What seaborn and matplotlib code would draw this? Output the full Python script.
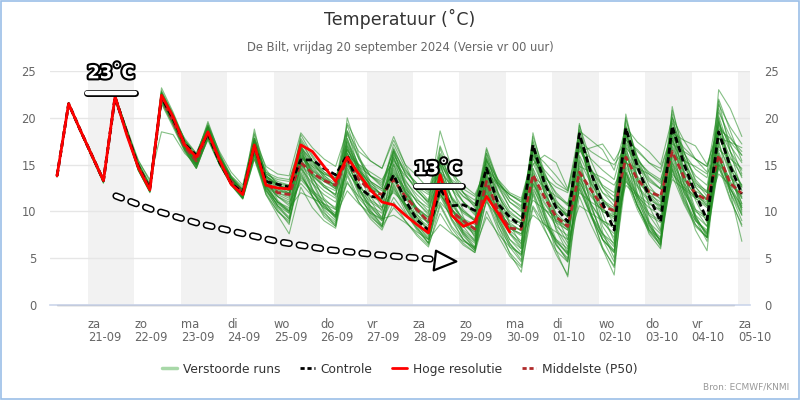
import numpy as np
import pandas as pd
import matplotlib
matplotlib.use("Agg")
import matplotlib.pyplot as plt
import matplotlib.dates as mdates
from matplotlib import patheffects as pe
from matplotlib.patches import Rectangle, Polygon
from matplotlib.lines import Line2D
import seaborn as sns

# ---------------- data ----------------
run_start = "2024-09-20 08:00"
n_steps = 60
day_names = ["za", "zo", "ma", "di", "wo", "do", "vr", "za", "zo", "ma", "di", "wo", "do", "vr", "za"]
day_dates = ["21-09", "22-09", "23-09", "24-09", "25-09", "26-09", "27-09", "28-09",
             "29-09", "30-09", "01-10", "02-10", "03-10", "04-10", "05-10"]

control = [13.8, 21.5, 18.7, 16.0, 13.3, 22.2, 18.4, 14.8, 12.4, 22.2, 19.9, 17.2, 16.0, 18.3, 15.3, 13.0, 12.0,
           17.0, 13.2, 12.9, 12.6, 15.5, 15.5, 14.6, 13.9, 16.0, 12.6, 11.6, 11.5, 13.9, 11.2, 9.1, 8.0,
           12.4, 10.6, 10.7, 10.1, 14.6, 10.8, 9.4, 8.4, 17.1, 13.0, 10.4, 8.9, 18.3, 14.1, 10.9, 8.0,
           18.9, 14.8, 11.6, 8.9, 19.1, 15.1, 11.9, 9.1, 18.5, 14.8, 11.9]
hres = [13.8, 21.5, 18.7, 16.0, 13.3, 22.3, 18.2, 14.7, 12.3, 22.4, 20.1, 17.1, 15.8, 18.5, 15.5, 12.9, 11.8,
        17.1, 12.8, 12.5, 12.4, 17.1, 16.4, 14.8, 13.2, 15.8, 14.0, 12.3, 11.0, 10.7, 9.6, 8.6, 7.7,
        13.9, 9.6, 8.4, 8.9, 11.6, 9.8, 7.8]
median = [13.8, 21.5, 18.7, 16.0, 13.3, 22.2, 18.5, 14.8, 12.5, 22.1, 19.6, 16.9, 15.4, 18.4, 15.4, 13.2, 12.0,
          16.9, 13.0, 12.0, 11.8, 15.2, 14.1, 13.3, 12.8, 15.5, 13.4, 12.2, 11.8, 13.4, 11.6, 10.2, 8.9,
          12.6, 10.0, 9.0, 8.1, 13.2, 10.1, 8.2, 8.1, 13.9, 11.5, 9.4, 8.4, 14.2, 12.3, 10.5, 10.1,
          15.8, 13.4, 12.1, 11.6, 16.4, 13.7, 11.9, 11.2, 16.0, 13.0, 11.9]

m01 = [13.8, 21.6, 18.8, 16.1, 13.4, 22.4, 18.8, 15.2, 12.8, 22.6, 20.2, 17.4, 15.8, 19.0, 15.9, 13.6, 12.2,
       17.6, 14.0, 13.2, 12.8, 16.8, 15.4, 14.2, 13.6, 17.5, 15.0, 13.8, 13.0, 15.6, 13.2, 11.8, 10.6,
       14.8, 12.4, 11.0, 10.0, 15.5, 12.8, 11.0, 10.2, 16.2, 13.8, 12.0, 10.8, 17.0, 14.5, 12.8, 12.0,
       18.2, 15.6, 14.0, 13.2, 18.8, 16.2, 14.5, 13.6, 19.5, 17.0, 15.2]
m02 = [13.7, 21.4, 18.5, 15.8, 13.0, 21.9, 18.2, 14.4, 12.1, 21.8, 19.4, 16.6, 14.8, 18.2, 15.0, 12.9, 11.5,
       16.2, 12.2, 10.4, 9.2, 13.8, 12.0, 10.4, 9.4, 14.0, 11.4, 10.0, 9.0, 11.5, 9.8, 8.2, 7.0,
       10.8, 8.4, 7.0, 6.0, 11.2, 8.0, 5.6, 4.2, 12.0, 8.8, 6.4, 5.0, 12.5, 9.4, 7.0, 5.6,
       13.8, 10.6, 8.4, 7.2, 14.5, 11.2, 9.0, 8.0, 15.0, 12.0, 9.6]
m03 = [13.9, 21.5, 18.7, 16.0, 13.3, 22.1, 18.5, 14.7, 12.4, 22.9, 20.4, 17.6, 16.0, 19.4, 16.2, 13.8, 12.6,
       18.4, 14.5, 12.8, 11.9, 17.8, 15.8, 13.9, 12.6, 19.2, 15.6, 13.2, 11.6, 14.4, 12.0, 10.1, 8.8,
       13.5, 10.8, 9.2, 8.2, 14.0, 10.6, 8.8, 7.9, 15.8, 12.0, 9.6, 8.2, 17.2, 13.2, 10.4, 8.8,
       18.8, 14.6, 11.8, 10.4, 20.0, 15.8, 12.6, 11.2, 21.0, 17.2, 14.0]
m04 = [13.8, 21.5, 18.6, 15.9, 13.2, 22.0, 18.3, 14.5, 12.2, 21.5, 19.0, 16.4, 14.6, 17.9, 15.1, 13.0, 11.4,
       16.0, 12.4, 10.6, 9.8, 14.8, 12.2, 10.2, 9.0, 15.2, 12.4, 10.0, 8.6, 13.0, 10.4, 8.2, 6.6,
       12.0, 9.0, 7.0, 5.8, 12.4, 8.6, 5.5, 3.5, 11.8, 8.2, 5.4, 3.2, 13.0, 9.6, 6.2, 4.0,
       14.6, 11.2, 8.6, 6.8, 16.2, 12.4, 9.4, 7.6, 17.4, 13.8, 10.8]
m05 = [13.8, 21.6, 18.8, 16.2, 13.5, 22.3, 18.9, 15.5, 13.2, 22.4, 20.0, 17.8, 16.2, 19.2, 16.4, 14.2, 12.8,
       17.8, 14.8, 14.0, 13.8, 18.4, 16.8, 15.6, 14.8, 18.6, 16.4, 15.4, 14.6, 17.6, 15.0, 13.8, 12.4,
       16.2, 14.0, 12.8, 11.8, 14.6, 13.0, 11.8, 11.2, 15.6, 13.6, 12.6, 12.0, 16.4, 16.8, 17.2, 15.4,
       17.6, 16.6, 15.2, 14.6, 18.4, 17.6, 17.0, 15.0, 18.8, 17.8, 16.4]
m06 = [13.8, 21.5, 18.7, 16.0, 13.3, 22.2, 18.5, 14.8, 12.5, 22.3, 19.8, 17.1, 15.5, 18.7, 15.6, 13.3, 12.0,
       17.0, 13.0, 12.0, 11.6, 15.4, 14.0, 13.2, 12.6, 15.8, 13.6, 12.4, 11.8, 13.6, 11.6, 10.0, 8.8,
       12.8, 10.2, 9.0, 8.0, 13.4, 10.2, 8.4, 8.0, 14.2, 11.4, 9.2, 8.2, 14.6, 12.2, 10.2, 9.6,
       16.0, 13.2, 11.8, 11.0, 16.8, 13.6, 11.6, 10.8, 16.4, 13.2, 11.4]
m07 = [13.8, 21.4, 18.6, 15.9, 13.2, 22.3, 18.6, 14.9, 12.6, 23.2, 20.6, 17.6, 15.9, 19.6, 16.2, 13.4, 11.9,
       18.8, 13.6, 11.2, 10.0, 17.2, 13.8, 11.2, 9.4, 20.0, 16.0, 12.6, 10.4, 16.4, 12.6, 9.8, 7.8,
       16.8, 12.6, 9.4, 7.2, 16.2, 12.0, 8.6, 6.4, 18.4, 13.6, 9.6, 7.0, 19.4, 14.0, 9.8, 6.8,
       20.4, 15.0, 10.6, 8.0, 21.2, 15.6, 11.2, 8.8, 23.0, 21.0, 18.0]
m08 = [13.8, 21.5, 18.7, 16.0, 13.4, 21.8, 18.4, 15.4, 13.4, 18.5, 18.2, 16.2, 15.0, 17.6, 15.0, 13.0, 11.6,
       16.4, 12.8, 11.0, 10.4, 12.0, 11.4, 10.8, 10.2, 13.0, 11.6, 10.6, 9.8, 12.4, 10.8, 9.4, 8.4,
       11.0, 9.6, 8.6, 7.6, 12.0, 9.8, 8.2, 7.4, 13.0, 10.8, 9.0, 8.0, 13.6, 11.6, 10.0, 9.2,
       14.8, 12.6, 11.0, 10.0, 15.2, 13.0, 11.4, 10.4, 14.6, 12.4, 10.6]
m09 = [13.8, 21.5, 18.7, 16.0, 13.2, 22.1, 18.4, 14.6, 12.3, 22.0, 19.6, 16.8, 15.0, 18.2, 15.2, 13.0, 11.6,
       16.6, 12.4, 10.2, 8.6, 15.6, 12.4, 10.0, 8.4, 16.4, 12.6, 10.2, 8.4, 13.8, 10.6, 8.4, 6.6,
       13.2, 9.8, 7.4, 6.0, 13.8, 9.4, 6.6, 4.8, 14.6, 9.6, 5.8, 3.0, 15.2, 10.8, 7.0, 4.6,
       16.4, 12.0, 8.6, 6.2, 17.6, 13.0, 9.2, 6.8, 18.6, 14.0, 10.4]
m10 = [13.8, 21.6, 18.8, 16.1, 13.4, 22.2, 18.7, 15.0, 12.7, 22.4, 20.0, 17.2, 15.6, 18.9, 15.8, 13.6, 12.3,
       17.2, 13.8, 12.8, 12.4, 16.0, 14.6, 13.4, 12.8, 17.0, 14.8, 13.2, 12.4, 16.0, 14.2, 13.0, 12.2,
       15.2, 13.4, 12.4, 11.6, 14.2, 12.8, 11.8, 11.0, 15.0, 16.0, 15.2, 12.4, 17.6, 16.4, 15.6, 15.0,
       16.8, 15.4, 14.2, 13.4, 17.2, 16.4, 15.6, 14.8, 17.8, 17.4, 16.8]
m11 = [13.7, 21.4, 18.6, 15.9, 13.1, 22.0, 18.3, 14.4, 12.0, 22.0, 19.4, 16.6, 14.6, 17.8, 15.0, 12.8, 11.4,
       15.8, 12.6, 11.0, 10.0, 13.4, 12.0, 10.8, 9.8, 14.6, 12.2, 10.6, 9.4, 12.8, 10.4, 8.6, 7.2,
       11.6, 9.2, 7.6, 6.6, 12.6, 9.0, 6.6, 5.2, 13.6, 10.0, 7.0, 5.4, 14.0, 10.4, 7.6, 6.2,
       15.4, 11.6, 8.8, 7.6, 15.8, 12.2, 9.6, 8.4, 16.0, 12.4, 9.8]
m12 = [13.8, 21.5, 18.7, 16.0, 13.3, 22.3, 18.7, 15.0, 12.6, 22.6, 20.2, 17.4, 15.6, 18.9, 15.8, 13.6, 12.2,
       17.4, 13.4, 12.0, 11.4, 18.2, 16.0, 14.2, 13.2, 19.4, 17.0, 15.4, 14.6, 18.0, 15.0, 12.4, 10.8,
       15.4, 12.8, 11.0, 9.8, 14.8, 12.0, 10.0, 9.0, 16.6, 13.2, 10.8, 9.4, 18.0, 14.6, 12.0, 10.6,
       19.0, 15.8, 13.6, 12.4, 19.6, 16.4, 13.4, 12.0, 20.6, 18.0, 16.0]
m13 = [13.8, 21.5, 18.6, 15.9, 13.2, 22.1, 18.5, 14.7, 12.3, 21.9, 19.5, 16.8, 15.0, 18.4, 15.3, 13.1, 11.7,
       16.6, 12.6, 10.6, 9.2, 14.2, 11.6, 9.8, 8.8, 13.2, 11.0, 9.4, 8.4, 10.4, 9.0, 7.6, 6.4,
       9.8, 7.8, 6.4, 5.6, 10.0, 7.4, 5.2, 4.0, 10.4, 8.0, 5.8, 4.6, 11.6, 8.6, 6.0, 4.2,
       13.4, 10.2, 7.8, 6.4, 14.4, 11.0, 8.6, 7.2, 15.2, 11.4, 8.4]
m14 = [13.9, 21.6, 18.8, 16.1, 13.4, 22.4, 18.8, 15.2, 12.9, 22.8, 20.4, 17.6, 16.2, 19.2, 16.0, 13.8, 12.4,
       17.8, 14.2, 13.0, 12.6, 17.0, 15.2, 13.6, 12.8, 18.2, 15.6, 13.8, 12.6, 17.2, 14.6, 12.6, 11.2,
       17.0, 14.0, 12.0, 10.8, 15.8, 13.2, 11.4, 10.6, 16.4, 15.2, 13.8, 12.2, 18.6, 17.6, 16.6, 14.4,
       19.0, 17.4, 16.4, 15.0, 20.0, 17.6, 15.6, 14.2, 21.4, 19.0, 17.2]
m15 = [13.8, 21.5, 18.7, 16.0, 13.3, 22.2, 18.5, 14.7, 12.4, 22.1, 19.7, 16.9, 15.2, 18.5, 15.4, 13.2, 11.8,
       16.8, 13.0, 11.6, 10.8, 14.6, 13.0, 11.8, 11.0, 15.0, 12.8, 11.2, 10.4, 12.2, 10.6, 9.2, 8.2,
       12.0, 9.6, 8.0, 7.0, 12.8, 9.6, 7.6, 6.6, 13.0, 10.4, 8.4, 7.4, 13.2, 10.8, 8.8, 7.6,
       14.2, 11.8, 9.8, 9.0, 15.0, 12.4, 10.2, 9.4, 15.6, 12.8, 10.4]
m16 = [13.8, 21.4, 18.6, 15.9, 13.2, 22.0, 18.4, 14.6, 12.2, 22.2, 19.8, 17.0, 15.2, 18.4, 15.3, 13.0, 11.5,
       17.2, 12.8, 10.6, 9.4, 16.4, 13.2, 10.8, 9.2, 17.8, 14.0, 11.2, 9.2, 15.0, 11.6, 9.0, 7.4,
       14.2, 10.4, 7.8, 6.2, 15.0, 10.6, 7.6, 6.0, 17.0, 12.2, 8.0, 5.6, 18.2, 12.6, 7.8, 5.0,
       19.4, 13.6, 9.0, 6.6, 20.4, 14.2, 9.6, 7.2, 21.8, 16.4, 12.2]
m17 = [13.8, 21.5, 18.7, 16.0, 13.3, 22.2, 18.6, 14.8, 12.5, 22.3, 19.9, 17.1, 15.4, 18.6, 15.5, 13.3, 11.9,
       17.0, 13.2, 12.2, 12.0, 15.8, 14.4, 13.4, 12.8, 16.2, 14.0, 12.6, 11.8, 14.6, 12.2, 10.4, 9.2,
       13.2, 10.6, 9.2, 8.6, 13.6, 10.8, 9.0, 8.4, 11.2, 10.2, 9.4, 8.8, 12.0, 11.0, 10.2, 9.4,
       13.2, 11.8, 10.8, 10.2, 14.0, 12.6, 11.6, 11.0, 15.0, 13.6, 12.6]
m18 = [13.8, 21.5, 18.7, 16.0, 13.3, 22.3, 18.6, 14.9, 12.6, 22.4, 20.0, 17.2, 15.6, 18.8, 15.7, 13.5, 12.1,
       17.4, 13.6, 12.6, 12.2, 16.6, 14.8, 13.4, 12.4, 16.8, 14.4, 12.8, 11.8, 15.2, 12.8, 11.0, 9.8,
       14.2, 11.6, 10.0, 9.0, 14.6, 11.6, 9.8, 9.0, 15.2, 12.4, 10.4, 9.4, 16.0, 13.4, 11.2, 10.4,
       17.2, 14.4, 12.4, 11.6, 17.6, 14.8, 12.8, 12.0, 17.0, 14.4, 12.8]
m19 = [13.8, 21.5, 18.6, 15.9, 13.2, 22.1, 18.4, 14.6, 12.3, 22.0, 19.6, 16.8, 15.0, 18.3, 15.2, 13.1, 11.7,
       16.0, 11.8, 9.6, 7.6, 12.6, 10.4, 9.0, 8.2, 13.8, 11.0, 9.2, 8.0, 11.0, 9.0, 7.4, 6.2,
       10.6, 8.2, 6.6, 5.6, 11.4, 8.4, 6.4, 5.4, 12.2, 9.0, 6.8, 5.6, 12.8, 9.6, 7.0, 5.8,
       14.2, 10.6, 8.0, 6.6, 15.4, 11.4, 8.6, 7.2, 16.2, 12.0, 9.0]
m20 = [13.8, 21.6, 18.8, 16.1, 13.4, 22.4, 18.8, 15.0, 12.7, 22.6, 20.2, 17.4, 15.8, 19.0, 15.9, 13.6, 12.2,
       17.6, 13.8, 12.8, 12.2, 16.2, 14.4, 13.2, 12.4, 17.4, 14.6, 12.8, 11.8, 15.8, 13.0, 11.0, 9.6,
       15.6, 12.4, 10.2, 9.0, 16.6, 12.8, 10.4, 9.4, 17.6, 13.6, 10.8, 9.4, 18.8, 14.4, 11.2, 9.6,
       20.0, 15.4, 12.2, 10.6, 19.4, 15.4, 12.6, 11.2, 20.2, 16.4, 13.6]
m21 = [13.7, 21.4, 18.5, 15.8, 13.1, 22.0, 18.3, 14.5, 12.1, 21.8, 19.3, 16.6, 14.8, 18.0, 15.0, 12.9, 11.4,
       16.2, 12.0, 10.0, 8.8, 14.0, 11.6, 9.6, 8.6, 14.8, 11.8, 9.8, 8.4, 12.6, 10.0, 8.0, 6.6,
       12.4, 9.2, 7.0, 5.8, 12.8, 9.0, 6.2, 4.6, 13.4, 9.4, 6.4, 4.8, 14.2, 9.8, 6.0, 3.2,
       15.6, 11.0, 7.6, 6.0, 16.6, 12.0, 8.0, 5.8, 17.6, 12.0, 6.8]
m22 = [13.8, 21.5, 18.7, 16.0, 13.3, 22.2, 18.6, 14.9, 12.5, 22.5, 20.0, 17.2, 15.5, 18.8, 15.6, 13.4, 12.0,
       17.2, 14.0, 13.4, 13.2, 17.6, 15.4, 13.6, 12.6, 16.6, 14.2, 13.0, 12.2, 14.2, 12.4, 11.2, 10.4,
       13.6, 11.4, 10.0, 9.2, 13.8, 11.2, 9.4, 8.8, 14.6, 12.0, 9.8, 8.6, 15.4, 13.0, 11.0, 10.2,
       16.6, 13.8, 12.0, 11.4, 17.0, 14.2, 12.2, 11.4, 18.0, 15.0, 12.8]
m23 = [13.8, 21.5, 18.6, 15.9, 13.2, 22.1, 18.5, 14.7, 12.4, 22.1, 19.7, 16.9, 15.1, 18.4, 15.3, 13.1, 11.8,
       16.4, 12.8, 11.6, 11.0, 13.0, 11.6, 10.4, 9.6, 12.2, 10.8, 9.8, 9.2, 9.6, 8.8, 7.8, 7.0,
       8.6, 7.6, 6.8, 6.2, 9.4, 7.6, 6.2, 5.4, 10.6, 8.6, 7.0, 6.0, 12.4, 9.6, 7.6, 6.6,
       13.6, 10.6, 8.2, 7.0, 14.6, 11.6, 9.0, 7.8, 15.8, 12.6, 9.6]
m24 = [13.8, 21.5, 18.7, 16.0, 13.3, 22.2, 18.7, 15.0, 12.6, 22.3, 19.9, 17.1, 15.5, 18.7, 15.6, 13.4, 12.1,
       17.2, 13.4, 12.4, 12.0, 15.0, 13.8, 12.8, 12.2, 16.6, 14.4, 13.2, 12.4, 16.8, 14.0, 12.2, 11.0,
       18.6, 14.6, 12.0, 10.4, 16.8, 13.2, 11.0, 10.0, 16.0, 13.0, 11.0, 10.0, 16.8, 14.0, 12.0, 11.2,
       17.8, 15.2, 13.4, 12.4, 18.4, 15.4, 13.0, 12.2, 18.6, 15.8, 13.8]
m25 = [13.8, 21.5, 18.7, 16.0, 13.3, 22.2, 18.6, 14.9, 12.6, 22.5, 20.1, 17.3, 15.7, 18.9, 15.7, 13.5, 12.1,
       16.6, 13.6, 12.8, 12.4, 16.4, 14.2, 12.8, 11.6, 17.8, 14.8, 12.6, 11.2, 15.0, 12.2, 10.2, 9.0,
       14.0, 11.4, 9.8, 9.0, 15.2, 11.8, 9.6, 8.6, 16.8, 13.0, 10.6, 9.6, 17.2, 14.0, 11.4, 9.8,
       16.2, 13.6, 11.6, 10.2, 17.8, 14.4, 12.0, 10.6, 18.4, 15.2, 12.6]
m26 = [13.7, 21.4, 18.6, 15.8, 13.1, 22.0, 18.3, 14.4, 12.1, 21.6, 19.2, 16.5, 14.6, 17.8, 15.0, 12.8, 11.3,
       15.6, 11.8, 10.0, 9.0, 14.6, 11.6, 9.4, 8.4, 15.6, 12.0, 9.6, 8.2, 14.0, 10.8, 8.6, 7.0,
       14.6, 10.4, 7.6, 6.0, 13.2, 9.6, 7.0, 5.6, 14.0, 9.8, 6.6, 4.6, 15.8, 10.6, 7.4, 5.8,
       17.0, 11.6, 8.0, 6.4, 18.2, 12.8, 9.2, 7.6, 19.6, 14.4, 10.8]
m27 = [13.8, 21.5, 18.7, 16.0, 13.3, 22.2, 18.6, 14.9, 12.6, 22.2, 19.9, 17.2, 15.6, 18.6, 15.6, 13.5, 12.3,
       16.8, 13.8, 13.0, 12.8, 15.8, 14.8, 14.0, 13.6, 16.0, 15.0, 14.2, 13.4, 15.4, 13.8, 12.6, 11.8,
       14.2, 12.8, 11.6, 10.8, 14.8, 13.0, 11.8, 11.0, 13.8, 12.6, 11.6, 10.8, 14.8, 14.2, 13.6, 12.8,
       15.2, 14.6, 14.0, 13.0, 16.0, 15.4, 14.8, 14.0, 16.6, 15.6, 14.6]
m28 = [13.8, 21.5, 18.7, 16.0, 13.3, 22.3, 18.6, 14.8, 12.5, 22.7, 20.2, 17.3, 15.5, 19.0, 15.7, 13.2, 11.8,
       18.2, 13.4, 11.6, 10.6, 16.8, 13.6, 11.4, 10.2, 18.6, 14.6, 11.6, 10.0, 16.6, 12.8, 10.2, 8.6,
       15.0, 11.4, 8.8, 7.4, 14.2, 10.6, 8.0, 6.8, 17.4, 12.6, 8.8, 6.6, 17.8, 13.0, 9.0, 7.2,
       18.6, 13.4, 9.6, 7.8, 18.8, 14.0, 10.2, 8.4, 19.8, 15.0, 11.4]
m29 = [13.8, 21.5, 18.7, 16.0, 13.3, 22.2, 18.5, 14.8, 12.5, 22.3, 19.8, 17.0, 15.3, 18.6, 15.5, 13.3, 11.9,
       17.0, 13.0, 11.8, 11.2, 15.0, 13.4, 12.2, 11.4, 14.2, 12.6, 11.6, 11.0, 12.0, 10.8, 9.6, 8.8,
       11.8, 10.0, 8.6, 7.8, 11.0, 9.4, 8.2, 7.6, 9.6, 8.6, 7.8, 7.0, 10.6, 9.8, 9.0, 8.4,
       12.8, 11.6, 10.4, 9.6, 13.4, 12.4, 11.4, 10.6, 14.0, 12.8, 11.6]
m30 = [13.8, 21.6, 18.8, 16.1, 13.4, 22.3, 18.7, 15.0, 12.7, 22.6, 20.2, 17.3, 15.7, 19.1, 15.9, 13.6, 12.2,
       17.8, 13.8, 12.4, 11.8, 16.0, 14.0, 12.6, 11.8, 17.2, 14.4, 12.4, 11.2, 16.2, 13.4, 11.4, 10.0,
       16.0, 13.0, 11.0, 9.6, 15.6, 12.6, 10.4, 9.4, 18.0, 14.2, 11.2, 9.6, 19.2, 15.4, 12.6, 11.0,
       19.8, 15.8, 12.8, 11.2, 20.8, 16.4, 13.2, 11.6, 22.0, 18.6, 15.4]
m31 = [13.8, 21.5, 18.6, 15.9, 13.2, 22.1, 18.4, 14.6, 12.3, 22.0, 19.6, 16.9, 15.1, 18.3, 15.3, 13.1, 11.7,
       16.4, 12.6, 11.0, 10.2, 15.0, 12.4, 10.6, 9.6, 15.4, 12.6, 10.4, 9.2, 13.4, 10.8, 8.8, 7.6,
       12.6, 9.6, 7.8, 6.8, 12.2, 9.2, 7.0, 6.0, 12.8, 9.4, 6.8, 5.4, 13.6, 9.8, 7.0, 5.6,
       14.2, 10.6, 8.0, 7.0, 13.8, 10.8, 8.4, 7.2, 14.8, 11.2, 8.6]
m32 = [13.8, 21.5, 18.7, 16.0, 13.3, 22.2, 18.5, 14.8, 12.4, 22.2, 19.7, 16.9, 15.3, 18.5, 15.4, 13.2, 11.9,
       16.8, 13.2, 12.2, 11.8, 15.6, 13.8, 12.6, 11.8, 16.2, 13.8, 12.2, 11.4, 14.0, 12.0, 10.4, 9.4,
       12.4, 10.2, 8.8, 7.8, 13.0, 10.0, 8.2, 7.6, 13.6, 11.0, 9.0, 8.4, 14.0, 11.8, 10.0, 9.4,
       15.4, 12.8, 11.2, 10.6, 16.2, 13.4, 11.8, 11.2, 15.8, 13.0, 11.8]
m33 = [13.8, 21.6, 18.8, 16.1, 13.4, 22.3, 18.7, 15.0, 12.7, 22.5, 20.1, 17.3, 15.7, 19.0, 15.8, 13.5, 12.2,
       17.4, 13.8, 12.8, 12.4, 17.4, 15.4, 13.8, 13.0, 18.4, 15.8, 13.8, 12.8, 16.6, 14.0, 12.2, 11.0,
       15.8, 13.2, 11.6, 10.6, 16.2, 13.4, 11.4, 10.4, 17.0, 14.0, 11.8, 10.6, 16.6, 14.4, 12.6, 11.6,
       17.4, 15.0, 13.2, 12.4, 18.0, 15.8, 13.8, 12.8, 19.0, 16.4, 14.4]
m34 = [13.7, 21.4, 18.6, 15.9, 13.2, 22.0, 18.3, 14.4, 12.1, 21.9, 19.4, 16.7, 14.9, 18.1, 15.1, 12.9, 11.4,
       15.6, 12.2, 10.8, 10.0, 13.6, 12.2, 11.2, 10.4, 14.4, 12.4, 11.0, 10.2, 13.4, 11.6, 10.2, 9.4,
       11.8, 10.2, 9.0, 8.2, 11.8, 9.8, 8.6, 8.0, 12.4, 10.2, 8.8, 8.0, 13.2, 10.8, 9.0, 8.2,
       14.0, 11.4, 9.6, 8.8, 14.8, 12.0, 10.0, 9.2, 15.4, 12.4, 10.2]
m35 = [13.8, 21.5, 18.7, 16.0, 13.3, 22.2, 18.6, 14.8, 12.5, 22.4, 20.0, 17.2, 15.5, 18.8, 15.6, 13.3, 11.9,
       17.6, 13.0, 11.0, 9.8, 16.8, 13.0, 10.6, 9.4, 17.0, 13.2, 10.6, 9.0, 15.8, 12.0, 9.4, 7.8,
       15.2, 11.2, 8.4, 6.8, 15.6, 11.0, 7.8, 6.2, 16.6, 11.8, 8.2, 6.2, 17.8, 12.4, 8.4, 6.4,
       18.2, 12.8, 8.8, 6.8, 19.0, 13.4, 9.4, 7.4, 20.0, 14.2, 10.0]
m36 = [13.8, 21.5, 18.7, 16.0, 13.4, 22.3, 18.7, 15.1, 12.8, 22.4, 20.0, 17.3, 15.8, 18.9, 15.8, 13.6, 12.3,
       17.2, 14.2, 13.6, 13.4, 16.8, 15.0, 14.0, 13.4, 16.6, 14.8, 13.8, 13.2, 16.4, 14.4, 13.0, 12.0,
       15.0, 13.2, 12.0, 11.2, 15.4, 13.4, 12.0, 11.4, 16.0, 14.4, 13.0, 12.2, 17.0, 15.6, 14.4, 13.4,
       18.0, 16.4, 15.2, 14.2, 18.6, 16.8, 15.6, 14.8, 19.2, 17.4, 16.0]

members = [m01, m02, m03, m04, m05, m06, m07, m08, m09, m10, m11, m12,
           m13, m14, m15, m16, m17, m18, m19, m20, m21, m22, m23, m24,
           m25, m26, m27, m28, m29, m30, m31, m32, m33, m34, m35, m36]

# ---------------- frames ----------------
times = pd.date_range(run_start, periods=n_steps, freq="6h")
df_members = pd.concat(
    [pd.DataFrame({"time": times, "temp": m, "member": k}) for k, m in enumerate(members)],
    ignore_index=True)
df_control = pd.DataFrame({"time": times, "temp": control})
df_median = pd.DataFrame({"time": times, "temp": median})
df_hres = pd.DataFrame({"time": times[:len(hres)], "temp": hres})

# ---------------- style ----------------
sns.set_theme(style="white")
plt.rcParams["font.family"] = ["DejaVu Sans"]
plt.rcParams["lines.scale_dashes"] = False

fig = plt.figure(figsize=(8, 4), dpi=100)
ax = fig.add_axes([0.0625, 0.2375, 0.875, 0.585])

t0 = pd.Timestamp(run_start)
def tpos(i):
    return mdates.date2num(t0 + pd.Timedelta(hours=6 * i))

day_ticks = pd.date_range("2024-09-21", periods=len(day_dates), freq="D")
for k, d in enumerate(day_ticks):
    if k % 2 == 0:
        ax.axvspan(d, d + pd.Timedelta(days=1), color="#f2f2f2", lw=0, zorder=0)

sns.lineplot(data=df_members, x="time", y="temp", units="member", estimator=None,
             color="#218c21", lw=0.8, alpha=0.55, legend=False, ax=ax, zorder=2)
sns.lineplot(data=df_median, x="time", y="temp", color="#b02a2a", lw=2.0,
             linestyle=(0, (4.5, 2.5)), ax=ax, zorder=3)
sns.lineplot(data=df_control, x="time", y="temp", color="black", lw=2.0,
             linestyle=(0, (4.5, 2.5)), ax=ax, zorder=4)
sns.lineplot(data=df_hres, x="time", y="temp", color="#ff0000", lw=2.0, ax=ax, zorder=5)

ax.set_xlim(pd.Timestamp("2024-09-20 04:22"), pd.Timestamp("2024-10-05 06:12"))
ax.set_ylim(0, 25)
ax.set_yticks([0, 5, 10, 15, 20, 25])
ax.set_xticks(day_ticks)
ax.set_xticklabels([f"{a}\n{b}" for a, b in zip(day_names, day_dates)],
                   ha="left", fontsize=8.3, color="#666666", linespacing=1.05)
ax.set_xlabel("")
ax.set_ylabel("")
ax.grid(axis="y", color="#e6e6e6", lw=1)
ax.grid(axis="x", visible=False)
ax.set_axisbelow(True)
for s in ["top", "left", "right"]:
    ax.spines[s].set_visible(False)
ax.spines["bottom"].set_color("#ccd6eb")
ax.spines["bottom"].set_linewidth(1.2)
ax.tick_params(axis="x", direction="out", length=7, width=1, color="#ccd6eb", pad=2)
ax.tick_params(axis="y", length=0, labelsize=8.3, labelcolor="#666666", pad=10,
               labelleft=True, labelright=True)
ax.plot([tpos(0), tpos(58.3)], [0.02, 0.02], color="#9a9a9a", lw=1, zorder=2.5, clip_on=False)

# ---------------- decorative trend arrow ----------------
arrow_i = [5.08, 8.01, 12.06, 15.77, 19.21, 23.52, 27.83, 32.14]
arrow_v = [11.65, 10.26, 8.76, 7.69, 6.73, 5.88, 5.34, 4.91]
ax_x = [tpos(i) for i in arrow_i]
ax.plot(ax_x, arrow_v, color="black", lw=5.2, linestyle=(0, (4.2, 7.2)),
        dash_capstyle="round", zorder=8)
ax.plot(ax_x, arrow_v, color="white", lw=3.0, linestyle=(0, (4.2, 7.2)),
        dash_capstyle="round", zorder=9)
head = Polygon([(tpos(32.65), 5.8), (tpos(34.4), 4.65), (tpos(32.45), 3.7)],
               closed=True, fc="white", ec="black", lw=1.6, joinstyle="round", zorder=10)
ax.add_patch(head)

for (ti, tv, bi0, bi1, bv, txt) in [(4.64, 24.75, 2.6, 6.7, 22.6, "23˚C"),
                                     (32.8, 14.5, 30.95, 34.85, 12.7, "13˚C")]:
    ax.plot([tpos(bi0), tpos(bi1)], [bv, bv], color="black", lw=5.0,
            solid_capstyle="round", zorder=10, clip_on=False)
    ax.plot([tpos(bi0), tpos(bi1)], [bv, bv], color="white", lw=3.2,
            solid_capstyle="round", zorder=11, clip_on=False)
    ax.text(tpos(ti), tv, txt, ha="center", va="center", fontsize=13, fontweight="bold",
            color="white", zorder=12, clip_on=False,
            path_effects=[pe.withStroke(linewidth=3, foreground="black")])

# ---------------- titles, legend, credits ----------------
fig.text(0.5, 0.953, "Temperatuur (˚C)", ha="center", va="center", fontsize=12.5, color="#333333")
fig.text(0.5, 0.882, "De Bilt, vrijdag 20 september 2024 (Versie vr 00 uur)", ha="center",
         va="center", fontsize=8.3, color="#666666")

handles = [Line2D([], [], color="#a8d8a8", lw=2.5),
           Line2D([], [], color="black", lw=2, linestyle=(0, (3, 2))),
           Line2D([], [], color="#ff0000", lw=2),
           Line2D([], [], color="#b02a2a", lw=2, linestyle=(0, (3, 2)))]
labels = ["Verstoorde runs", "Controle", "Hoge resolutie", "Middelste (P50)"]
leg = fig.legend(handles, labels, loc="center", bbox_to_anchor=(0.5, 0.077), ncol=4,
                 frameon=False, fontsize=8.8, handlelength=1.2, handletextpad=0.5,
                 columnspacing=1.6)
for t in leg.get_texts():
    t.set_color("#333333")

fig.text(0.987, 0.02, "Bron: ECMWF/KNMI", ha="right", va="bottom", fontsize=6.5, color="#999999")
fig.patches.append(Rectangle((0.0008, 0.0015), 0.9975, 0.996, transform=fig.transFigure,
                             fill=False, ec="#9bbfe8", lw=1.2, zorder=20))

fig.savefig("out.png", dpi=100)
